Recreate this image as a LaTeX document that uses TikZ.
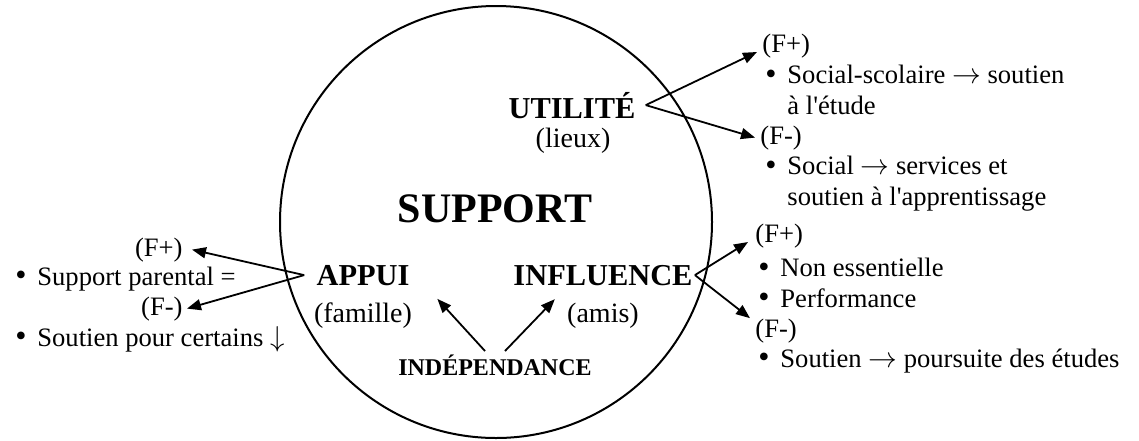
\documentclass[tikz,border=0pt]{standalone}
\usepackage{fontspec}
\setmainfont{Liberation Serif}
\usetikzlibrary{arrows.meta}
\newcommand{\itm}{\hspace*{1.5pt}\makebox[11pt][l]{\raisebox{-0.3pt}{\fontsize{16}{16}\selectfont\textbullet}}}
\newcommand{\itmcont}{\hspace*{12.5pt}}

\begin{document}
\begin{tikzpicture}[x=0.5pt,y=-0.5pt,
every node/.style={inner sep=0pt},
hub/.style={font=\fontsize{15.2}{18}\selectfont\bfseries,anchor=base},
sub/.style={font=\fontsize{14}{16}\selectfont,anchor=base},
txt/.style={font=\fontsize{13.3}{15.25}\selectfont,align=left},
arr/.style={-{Triangle[length=7pt,width=5.5pt]},line width=0.9pt}]
\useasboundingbox (0,0) rectangle (1139,440);
\draw[line width=1pt] (496,222) circle[radius=216];
\node[font=\fontsize{21}{24}\selectfont\bfseries,anchor=base] (S) at (495,222) {SUPPORT};
\node[hub,inner xsep=5pt] (U) at (572,118) {UTILITÉ};
\node[sub] (U1) at (573,147) {(lieux)};
\node[hub,inner xsep=6pt] (A) at (363,285) {APPUI};
\node[sub] (A1) at (363,322) {(famille)};
\node[hub,inner xsep=1pt] (I) at (603,285) {INFLUENCE};
\node[sub] (I1) at (603,322) {(amis)};
\node[font=\fontsize{12}{14}\selectfont\bfseries,anchor=base,inner ysep=1.5pt] (D) at (495,375) {INDÉPENDANCE};
% gauche
\node[txt,anchor=base east,inner xsep=4.5pt] (A2) at (192,256) {(F+)};
\node[txt,anchor=base west] (A3) at (12,285) {\itm Support parental =};
\node[txt,anchor=base east,inner xsep=2pt] (A4) at (187,315) {(F-)};
\node[txt,anchor=base west] (A5) at (12,346) {\itm Soutien pour certains $\downarrow$};
% droite haut
\node[txt,anchor=base west,inner xsep=2.5pt] (U2) at (757,52) {(F+)};
\node[txt,anchor=base west] (U3) at (762,114) {\itm Social-scolaire $\rightarrow$ soutien\\\itmcont à l\textquotesingle étude};
\node[txt,anchor=base west,inner xsep=2.5pt] (U4) at (755,144) {(F-)};
\node[txt,anchor=base west] (U5) at (762,205) {\itm Social $\rightarrow$ services et\\\itmcont soutien à l\textquotesingle apprentissage};
% droite bas
\node[txt,anchor=base west,inner xsep=3.5pt] (I2) at (748,242) {(F+)};
\node[txt,anchor=base west] (I3) at (755,307) {\itm Non essentielle\\\itm Performance};
\node[txt,anchor=base west,inner xsep=2.5pt] (I4) at (750,337) {(F-)};
\node[txt,anchor=base west] (I5) at (755,367) {\itm Soutien $\rightarrow$ poursuite des études};
\draw[arr] (U.east)--(U2.base west);
\draw[arr] (U.east)--(U4.west);
\draw[arr] (A.west)--(A2.east);
\draw[arr] (A.west)--(A4.east);
\draw[arr] (I.east)--(I2.base west);
\draw[arr] (I.east)--(I4.north west);
\draw[arr] ([xshift=-5pt]D.north)--([shift={(12.5pt,1.5pt)}]A1.north east);
\draw[arr] ([xshift=5pt]D.north)--([shift={(-6pt,1.5pt)}]I1.north west);
\end{tikzpicture}
\end{document}
